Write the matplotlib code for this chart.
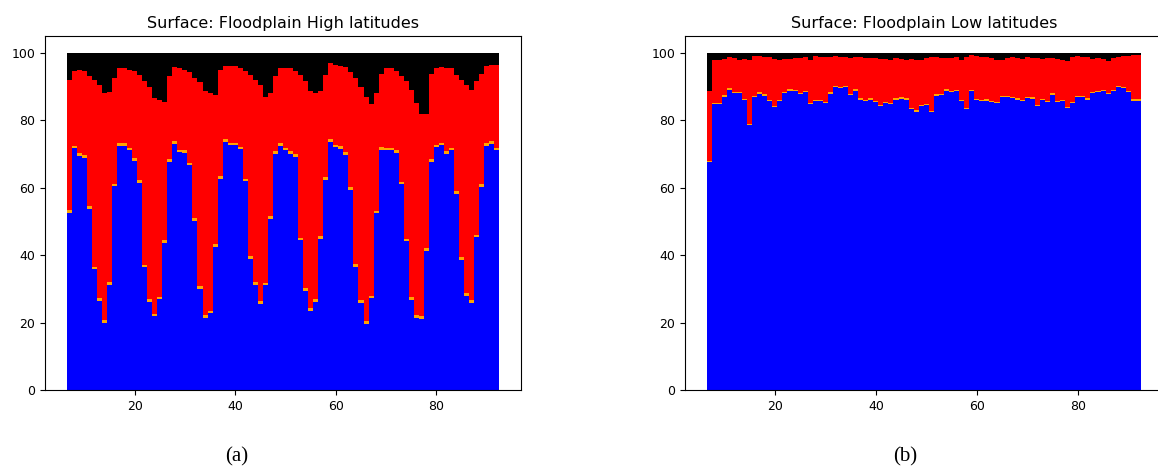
import matplotlib
matplotlib.use("Agg")
import matplotlib.pyplot as plt
import numpy as np

# x positions of the bars (same for both panels)
years = list(range(7, 93))

# panel (a): Floodplain High latitudes
high_blue = [52.6, 71.7, 69.4, 68.8, 53.8, 35.8, 26.4, 20.0, 31.2, 60.4,
             72.4, 72.4, 71.1, 68.0, 61.5, 36.4, 26.2, 21.8, 26.9, 43.7,
             67.7, 73.0, 70.5, 70.3, 66.6, 50.2, 29.9, 21.3, 22.7, 42.5,
             62.6, 73.5, 72.6, 72.6, 71.4, 61.9, 38.8, 31.2, 25.6, 31.0,
             50.7, 70.0, 72.4, 71.1, 70.1, 69.2, 44.4, 29.4, 23.4, 26.1,
             44.9, 62.3, 73.5, 72.0, 71.5, 69.8, 59.3, 36.5, 25.8, 19.7,
             27.2, 52.4, 71.3, 71.1, 71.1, 70.4, 61.0, 44.1, 26.7, 21.5,
             21.0, 41.3, 67.7, 72.0, 72.6, 70.1, 71.1, 58.2, 38.6, 27.9,
             25.9, 45.3, 60.3, 72.4, 73.0, 71.1]
high_orange = 0.8
# top of the red layer (black fills the rest up to 100)
high_red_top = [92.0, 94.5, 94.8, 94.5, 93.0, 92.0, 90.5, 88.0, 88.5, 92.5,
                95.6, 95.6, 95.0, 94.5, 93.4, 91.5, 90.0, 86.5, 86.0, 85.4,
                93.0, 95.9, 95.6, 95.0, 94.3, 92.5, 91.3, 88.6, 88.0, 87.5,
                95.0, 96.2, 96.2, 96.0, 95.4, 94.5, 93.4, 92.0, 90.5, 87.0,
                88.0, 93.0, 95.6, 95.6, 95.6, 94.5, 93.4, 91.5, 88.6, 88.0,
                88.6, 93.4, 96.9, 96.3, 96.1, 95.9, 94.3, 92.5, 90.0, 87.0,
                84.8, 88.0, 93.8, 95.4, 95.4, 94.5, 93.0, 91.5, 89.1, 85.0,
                82.0, 82.0, 93.8, 95.4, 95.9, 95.4, 95.4, 93.4, 92.0, 90.5,
                89.1, 91.5, 93.8, 96.1, 96.5, 96.5]

# panel (b): Floodplain Low latitudes
low_blue = [67.6, 84.7, 84.7, 87.0, 89.1, 88.1, 88.1, 85.9, 78.5, 86.9,
            87.9, 87.3, 85.7, 83.9, 85.7, 88.1, 88.8, 88.6, 87.8, 88.3,
            84.8, 85.7, 85.6, 85.1, 87.9, 89.8, 89.6, 89.8, 87.4, 88.8,
            86.1, 85.6, 86.1, 85.3, 84.1, 85.1, 84.8, 86.1, 86.4, 86.1,
            83.2, 82.5, 84.1, 84.5, 82.4, 87.3, 87.4, 88.8, 88.3, 88.6,
            85.7, 83.2, 88.6, 85.9, 85.6, 85.8, 85.4, 85.1, 86.9, 86.8,
            86.6, 86.1, 85.6, 86.6, 86.4, 84.1, 85.9, 85.4, 87.6, 85.4,
            85.6, 83.6, 85.1, 86.8, 86.8, 86.1, 88.1, 88.3, 88.6, 87.8,
            88.6, 89.8, 89.6, 88.3, 85.8, 85.8]
low_orange = 0.4
low_red_top = [88.8, 97.8, 97.9, 98.2, 98.8, 98.5, 97.8, 98.1, 97.8, 99.0,
               99.0, 98.8, 98.7, 98.2, 98.0, 98.2, 98.2, 98.5, 98.5, 98.7,
               97.9, 99.0, 98.8, 98.7, 98.7, 99.0, 98.8, 98.7, 98.5, 98.7,
               98.7, 98.5, 98.5, 98.5, 98.3, 98.2, 98.0, 98.5, 98.2, 98.0,
               98.2, 98.0, 98.0, 98.5, 98.7, 98.7, 98.5, 98.5, 98.5, 98.7,
               98.0, 98.7, 99.3, 99.0, 98.7, 98.7, 98.5, 98.0, 98.0, 98.5,
               98.7, 98.5, 98.3, 98.7, 98.5, 98.5, 98.2, 98.5, 98.5, 98.2,
               98.0, 97.5, 98.7, 99.0, 98.7, 98.7, 98.3, 98.5, 98.3, 97.7,
               98.5, 98.7, 99.0, 99.2, 99.3, 99.3]


def stacked_panel(ax, blue, orange, red_top, title):
    x = np.array(years)
    blue = np.array(blue)
    orange = np.full(len(x), orange)
    red = np.array(red_top) - blue - orange
    black = 100 - np.array(red_top)

    bottom = np.zeros(len(x))
    for vals, col in [(blue, 'blue'), (orange, 'orange'), (red, 'red'), (black, 'black')]:
        ax.bar(x, vals, width=1.0, bottom=bottom, color=col, linewidth=0, antialiased=False)
        bottom = bottom + vals

    ax.set_title(title, fontsize=11.5)
    ax.set_xticks([20, 40, 60, 80])
    ax.set_yticks([0, 20, 40, 60, 80, 100])
    ax.tick_params(labelsize=9)


fig = plt.figure(figsize=(11.58, 4.71), dpi=100)
ax1 = fig.add_axes([0.0389, 0.172, 0.411, 0.7516])
# right panel runs slightly past the edge of the figure, as in the original crop
ax2 = fig.add_axes([0.5915, 0.172, 0.4125, 0.7516])

stacked_panel(ax1, high_blue, high_orange, high_red_top, "Surface: Floodplain High latitudes")
stacked_panel(ax2, low_blue, low_orange, low_red_top, "Surface: Floodplain Low latitudes")

fig.text(237 / 1158, 1 - 457 / 471, "(a)", ha='center', va='center',
         fontsize=15, family='Liberation Serif')
fig.text(905 / 1158, 1 - 457 / 471, "(b)", ha='center', va='center',
         fontsize=15, family='Liberation Serif')

plt.savefig("out.png", dpi=100)
